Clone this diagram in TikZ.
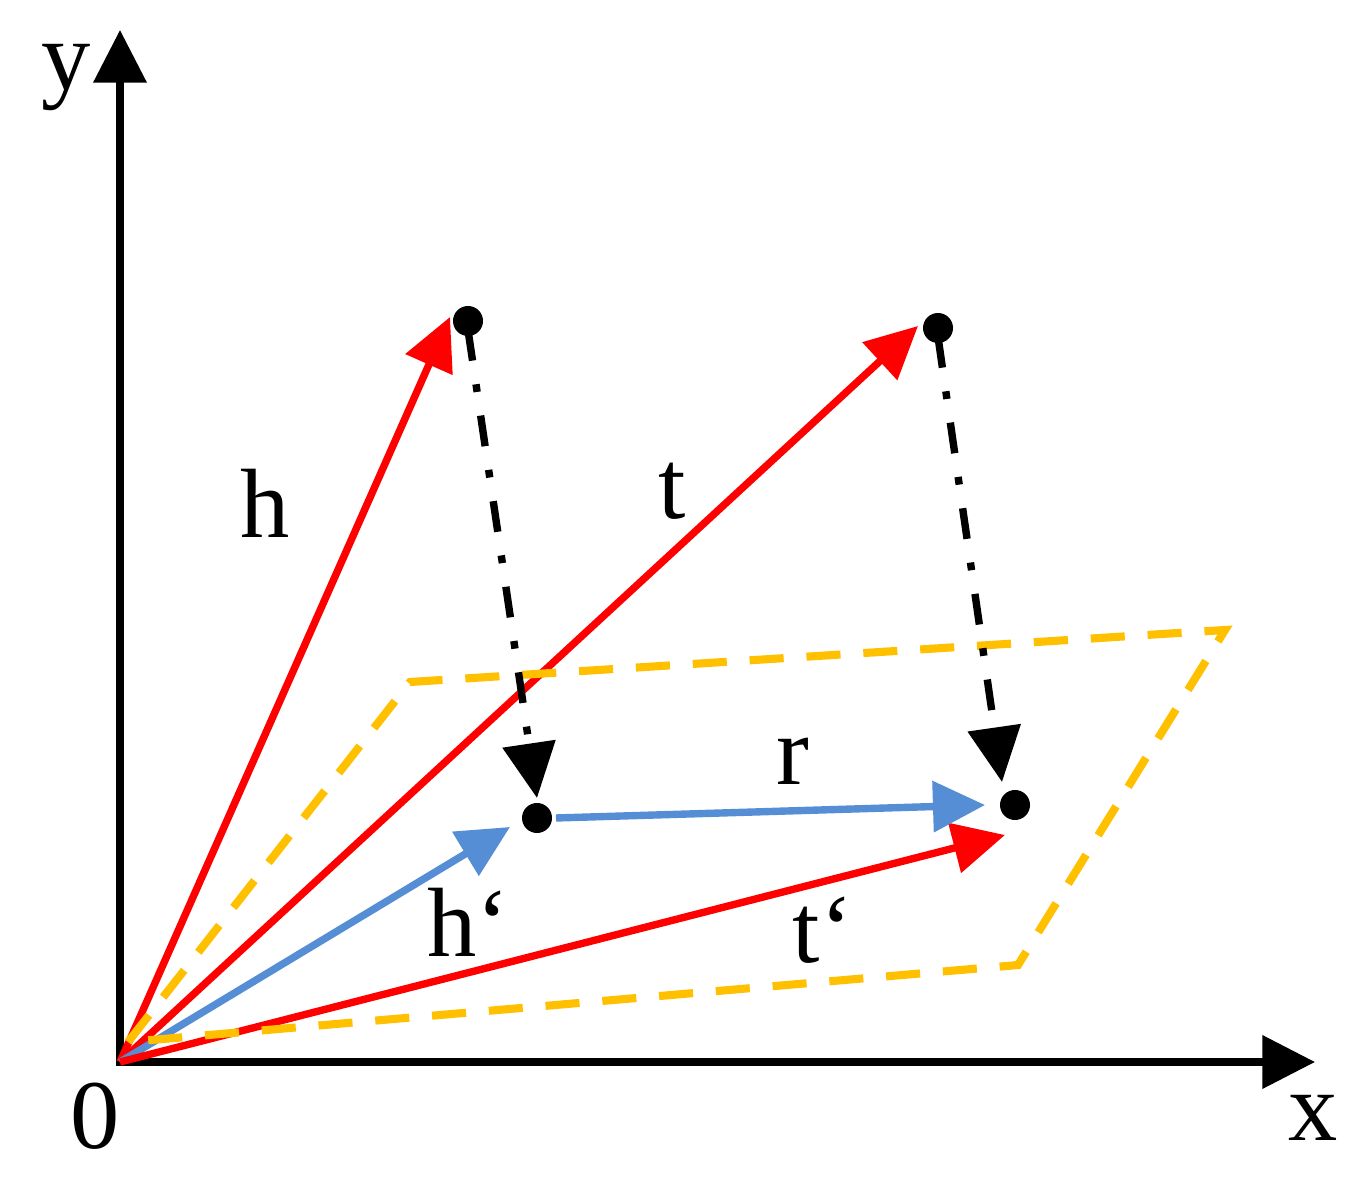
\documentclass[tikz,border=0pt]{standalone}
\usepackage{fontspec}
\setmainfont{Liberation Serif}
\usetikzlibrary{arrows.meta}
\definecolor{vred}{RGB}{255,0,0}
\definecolor{vblue}{RGB}{85,142,213}
\definecolor{vyellow}{RGB}{255,192,0}
\begin{document}
\begin{tikzpicture}[x=0.01cm,y=-0.01cm,
  tip/.style={-{Triangle[length=14.8pt,width=14.2pt]}},
  redvec/.style={draw=vred, line width=2.1pt, tip},
  bluevec/.style={draw=vblue, line width=2.1pt, tip},
  axisline/.style={draw=black, line width=2.1pt,
    {Triangle[length=15pt,width=14.8pt]}-{Triangle[length=15pt,width=14.8pt]}},
  proj/.style={draw=black, line width=2.1pt,
    dash pattern=on 8.8pt off 6.8pt on 2.2pt off 6.8pt,
    -{Triangle[length=15.6pt,width=14.8pt]}},
  plane/.style={draw=vyellow, line width=2.3pt, dash pattern=on 9.7pt off 6.5pt},
  dot/.style={circle, fill=black, minimum size=0.3cm, inner sep=0pt},
  lab/.style={font=\fontsize{28}{34}\selectfont, inner sep=0pt, anchor=base}
]
\useasboundingbox (0,0) rectangle (1364,1177);

% points
\coordinate (O) at (120,1062);
\coordinate (ytip) at (120,30);
\coordinate (xtip) at (1315,1062);
\node[dot] (H) at (468,321) {};
\node[dot] (T) at (938,328) {};
\node[dot] (Hp) at (537,818) {};
\node[dot] (Tp) at (1015,805) {};

% arrow tip coordinates
\coordinate (hTip) at (450,317);
\coordinate (tTip) at (918,326);
\coordinate (hpTip) at (510,827);
\coordinate (tpTip) at (1005,835);
\coordinate (rStart) at (556,818);
\coordinate (rTip) at (985,805);
\coordinate (hStart) at (468,330);
\coordinate (tStart) at (938,337);
\coordinate (hProjTip) at (537,798);
\coordinate (tProjTip) at (1002,782);

% plane corners
\coordinate (PA) at (128,1042);
\coordinate (PB) at (410,682);
\coordinate (PC) at (1225,630);
\coordinate (PD) at (1018,965);

% axes
\draw[axisline] (ytip) -- (O) -- (xtip);

% vectors
\draw[redvec] (O) -- (hTip);
\draw[redvec] (O) -- (tTip);
\draw[bluevec] (O) -- (hpTip);
\draw[redvec] (O) -- (tpTip);
\draw[bluevec] (rStart) -- (rTip);

% plane
\draw[plane] (PA) -- (PB) -- (PC) -- (PD) -- cycle;

% projections
\draw[proj] (hStart) -- (hProjTip);
\draw[proj] (tStart) -- (tProjTip);

% labels
\node[lab] (ly) at (66,90) {y};
\node[lab] (lx) at (1313,1140) {x};
\node[lab] (l0) at (95,1148) {0};
\node[lab] (lh) at (265,538) {h};
\node[lab] (lt) at (672,519) {t};
\node[lab] (lr) at (793,785) {r};
\node[lab, anchor=base west] (lhp) at (427,957) {h‘};
\node[lab, anchor=base west] (ltp) at (792,962) {t‘};
\end{tikzpicture}
\end{document}
